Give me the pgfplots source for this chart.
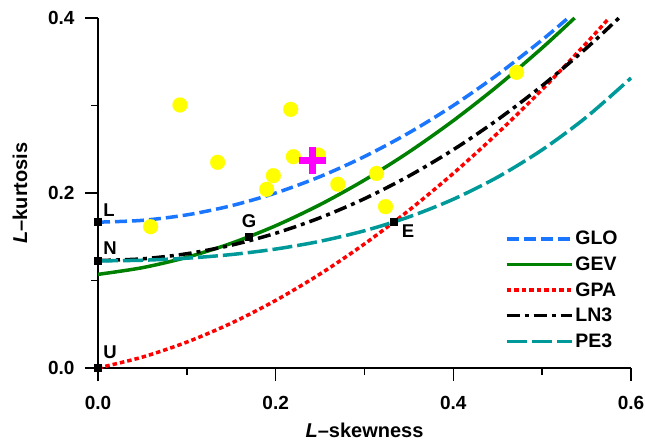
\documentclass[border=0pt]{standalone}
\usepackage{fontspec}
\setmainfont{Liberation Sans}
\usepackage{pgfplots}
\pgfplotsset{compat=1.18}
\definecolor{GloBlue}{RGB}{26,117,255}
\definecolor{GevGreen}{RGB}{0,128,0}
\definecolor{GpaRed}{RGB}{255,0,0}
\definecolor{PeTeal}{RGB}{0,153,153}
\definecolor{PtYellow}{RGB}{255,255,0}
\definecolor{PtMagenta}{RGB}{255,0,255}

\begin{document}
\begin{tikzpicture}
\begin{axis}[
  name=ax, at={(0,0)}, anchor=south west,
  scale only axis, width=533pt, height=350pt,
  xmin=0, xmax=0.6, ymin=0, ymax=0.4,
  axis lines*=left,
  axis line style={line width=1.6pt, shorten <=-13pt},
  tick style={line width=1.6pt, black},
  major tick length=13pt, minor tick length=7pt, tick align=outside,
  xtick={0,0.2,0.4,0.6}, xticklabels={0.0,0.2,0.4,0.6},
  minor xtick={0.1,0.3,0.5},
  ytick={0,0.2,0.4}, yticklabels={0.0,0.2,0.4},
  minor ytick={0.1,0.3},
  ticklabel style={font=\bfseries\fontsize{19}{19}\selectfont},
  xticklabel style={yshift=-12pt},
  yticklabel style={xshift=-7pt},
  clip=false,
  legend style={draw=none, fill=none, at={(rel axis cs:0.763,0.397)},
    anchor=north west, font=\bfseries\fontsize{19.5}{19.5}\selectfont,
    row sep=6.5pt, inner sep=0pt},
  legend cell align=left,
  legend image code/.code={\draw[#1] (0pt,0pt) -- (65pt,0pt);},
  every axis plot/.append style={line width=3.5pt},
]
% GLO
\addplot[GloBlue, dash pattern=on 12pt off 5pt, smooth] coordinates {
  (0,0.16667)(0.05,0.16875)(0.1,0.175)(0.15,0.18542)(0.2,0.2)(0.25,0.21875)
  (0.3,0.24167)(0.35,0.26875)(0.4,0.3)(0.45,0.33542)(0.5,0.375)(0.5292,0.4)};
\addlegendentry{GLO}
% GEV
\addplot[GevGreen, smooth] coordinates {
  (0,0.10701)(0.05,0.11467)(0.1,0.12652)(0.15,0.14251)(0.2,0.16259)(0.25,0.18671)
  (0.3,0.2148)(0.35,0.24683)(0.4,0.28271)(0.45,0.3224)(0.5,0.36585)(0.5365,0.4)};
\addlegendentry{GEV}
% GPA
\addplot[GpaRed, dash pattern=on 4.5pt off 3pt, smooth] coordinates {
  (0,0)(0.05,0.01247)(0.1,0.02959)(0.15,0.05122)(0.2,0.07722)(0.25,0.10746)
  (0.3,0.14182)(0.35,0.18019)(0.4,0.22244)(0.45,0.26848)(0.5,0.31821)(0.55,0.37153)(0.5754,0.4)};
\addlegendentry{GPA}
% LN3
\addplot[black, dash pattern=on 13pt off 5pt on 4pt off 5pt, smooth] coordinates {
  (0,0.12282)(0.05,0.12476)(0.1,0.13058)(0.15,0.14032)(0.2,0.15402)(0.25,0.17172)
  (0.3,0.19349)(0.35,0.2194)(0.4,0.24951)(0.45,0.28389)(0.5,0.3226)(0.55,0.36573)(0.5864,0.4)};
\addlegendentry{LN3}
% PE3
\addplot[PeTeal, dash pattern=on 20pt off 5pt, smooth] coordinates {
  (0,0.1224)(0.05,0.12316)(0.1,0.12551)(0.15,0.12965)(0.2,0.13594)(0.25,0.14483)
  (0.3,0.15686)(0.35,0.17266)(0.4,0.19288)(0.45,0.21822)(0.5,0.24935)(0.55,0.28688)(0.6,0.33142)};
\addlegendentry{PE3}
% special distributions
\addplot[only marks, mark=square*, mark size=3.5pt, black, line width=0.5pt, forget plot] coordinates {
  (0,0.1667)(0,0.1226)(0,0)(0.1699,0.1504)(0.3333,0.1667)};
% sites
\addplot[only marks, mark=*, mark size=7.5pt, color=PtYellow, line width=0.1pt, forget plot] coordinates {
  (0.0923,0.3006)(0.1347,0.2351)(0.2169,0.2956)(0.2199,0.2415)(0.1974,0.2198)(0.1899,0.2042)
  (0.2480,0.2434)(0.0592,0.1615)(0.4712,0.3379)(0.3136,0.2224)(0.2700,0.2100)(0.3237,0.1844)};
% regional average
\addplot[only marks, mark=+, mark size=13.5pt, color=PtMagenta, mark options={line width=7pt}, forget plot] coordinates {
  (0.2413,0.2366)};
\node[font=\bfseries\fontsize{18.5}{18.5}\selectfont] at (axis cs:0.0124,0.1806) {L};
\node[font=\bfseries\fontsize{18.5}{18.5}\selectfont] at (axis cs:0.0135,0.1371) {N};
\node[font=\bfseries\fontsize{18.5}{18.5}\selectfont] at (axis cs:0.0135,0.0183) {U};
\node[font=\bfseries\fontsize{18.5}{18.5}\selectfont] at (axis cs:0.170,0.168) {G};
\node[font=\bfseries\fontsize{18.5}{18.5}\selectfont] at (axis cs:0.349,0.1566) {E};
\end{axis}
\node[font=\bfseries\fontsize{20}{20}\selectfont] at (266.5pt,-62pt) {\textit{L}--skewness};
\node[font=\bfseries\fontsize{20}{20}\selectfont, rotate=90] at (-78pt,175pt) {\textit{L}--kurtosis};
\pgfresetboundingbox
\path[use as bounding box] (-98pt,-74pt) rectangle (547pt,368pt);
\end{tikzpicture}
\end{document}
